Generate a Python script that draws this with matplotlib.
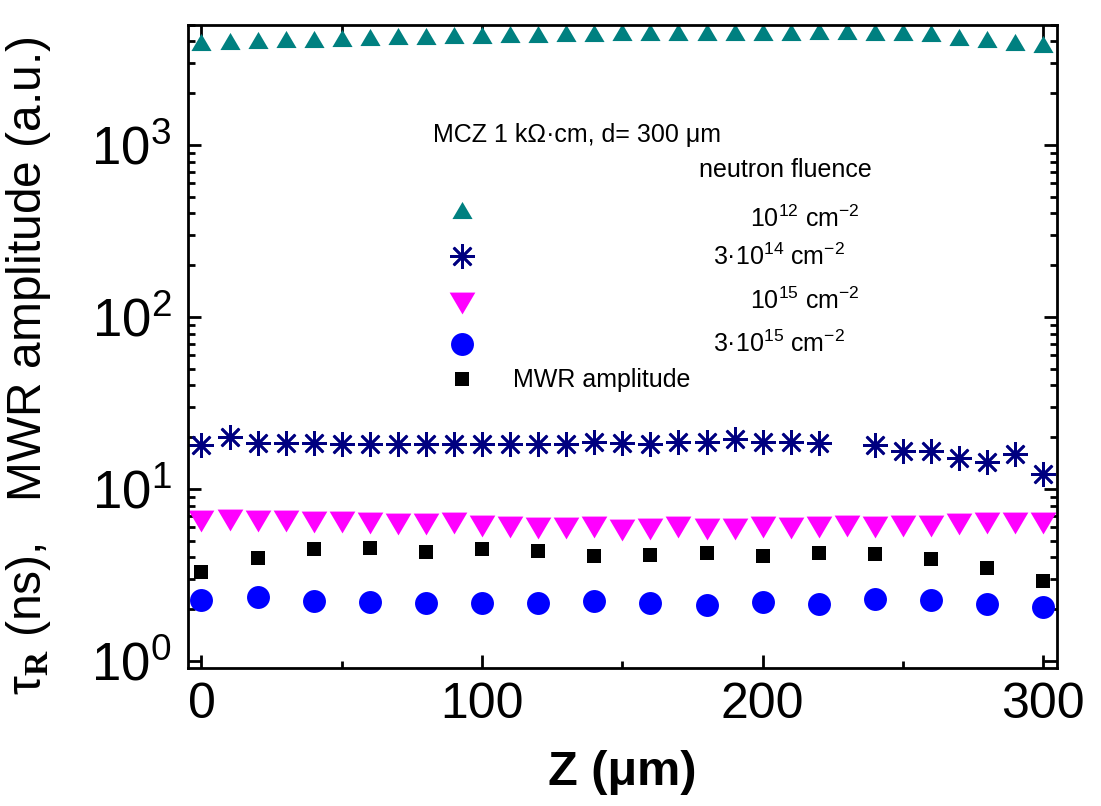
import matplotlib
matplotlib.use('Agg')
import matplotlib.pyplot as plt
from matplotlib.ticker import MultipleLocator, LogLocator, NullFormatter
import numpy as np

plt.rcParams['font.family'] = ['Liberation Sans', 'DejaVu Sans']
plt.rcParams['mathtext.fontset'] = 'custom'
plt.rcParams['mathtext.rm'] = 'Liberation Sans'
plt.rcParams['mathtext.it'] = 'Liberation Serif:italic'
plt.rcParams['mathtext.bf'] = 'Liberation Serif:bold'
plt.rcParams['mathtext.default'] = 'regular'
plt.rcParams['xtick.direction'] = 'in'
plt.rcParams['ytick.direction'] = 'in'

# data
z_fine = np.arange(0, 301, 10)
z_coarse = np.arange(0, 301, 20)

amp_1e12 = [3990, 4010, 4080, 4120, 4150, 4190, 4250, 4290, 4320, 4360, 4380,
            4420, 4440, 4500, 4500, 4540, 4540, 4540, 4540, 4540, 4540, 4560,
            4600, 4600, 4560, 4520, 4470, 4250, 4150, 3990, 3850]

z_3e14 = [0, 10, 20, 30, 40, 50, 60, 70, 80, 90, 100, 110, 120, 130, 140, 150,
          160, 170, 180, 190, 200, 210, 220, 240, 250, 260, 270, 280, 290, 300]
tau_3e14 = [18.0, 20.0, 18.4, 18.6, 18.4, 18.3, 18.2, 18.2, 18.3, 18.3, 18.3,
            18.3, 18.3, 18.3, 18.7, 18.6, 18.2, 18.8, 18.8, 19.5, 18.8, 18.8,
            18.6, 18.0, 16.7, 16.7, 15.2, 14.3, 16.0, 12.3]

tau_1e15 = [6.49, 6.59, 6.54, 6.54, 6.45, 6.45, 6.37, 6.26, 6.23, 6.32, 6.11,
            6.04, 5.96, 5.93, 5.99, 5.81, 5.88, 5.99, 5.83, 5.88, 5.99, 5.96,
            6.01, 6.12, 6.04, 6.09, 6.09, 6.28, 6.36, 6.36, 6.36]

tau_3e15 = [2.26, 2.35, 2.23, 2.21, 2.18, 2.18, 2.17, 2.24, 2.17, 2.11, 2.19,
            2.14, 2.29, 2.26, 2.14, 2.07]

mwr_amp = [3.28, 3.99, 4.46, 4.52, 4.32, 4.46, 4.36, 4.09, 4.13, 4.23, 4.09,
           4.26, 4.19, 3.92, 3.46, 2.92]

legend_labels = ['10$^{12}$ cm$^{-2}$', '3·10$^{14}$ cm$^{-2}$',
                 '10$^{15}$ cm$^{-2}$', '3·10$^{15}$ cm$^{-2}$',
                 'MWR amplitude']

tri_up = [(-1, -0.85), (1, -0.85), (0, 0.85)]
tri_down = [(-1, 0.85), (1, 0.85), (0, -0.85)]

styles = [
    dict(marker=tri_up, color='#008080', ms=14.5, mew=0),
    dict(marker=(8, 2, 0), color='#000080', ms=18, mew=1.9, mfc='none'),
    dict(marker=tri_down, color='#FF00FF', ms=18.5, mew=0),
    dict(marker='o', color='#0000FF', ms=16.5, mew=0),
    dict(marker='s', color='black', ms=10.5, mew=0),
]

fig = plt.figure(figsize=(11.01, 8.06), dpi=100)
ax = fig.add_axes([188 / 1101, 1 - 668 / 806, (1057 - 188) / 1101, (668 - 24.5) / 806])

series = [(z_fine, amp_1e12), (z_3e14, tau_3e14), (z_fine, tau_1e15),
          (z_coarse, tau_3e15), (z_coarse, mwr_amp)]
for (xs, ys), st in zip(series, styles):
    ax.plot(xs, ys, linestyle='none', **st)

ax.set_yscale('log')
ax.set_xlim(-4.8, 304.9)
ax.set_ylim(0.911, 5020)

ax.xaxis.set_major_locator(MultipleLocator(100))
ax.xaxis.set_minor_locator(MultipleLocator(50))
ax.yaxis.set_major_locator(LogLocator(base=10, numticks=10))
ax.yaxis.set_minor_locator(LogLocator(base=10, subs=np.arange(2, 10), numticks=10))
ax.yaxis.set_minor_formatter(NullFormatter())

for s in ax.spines.values():
    s.set_linewidth(2)
ax.tick_params(which='both', top=True, right=True, width=2)
ax.tick_params(which='major', length=9.5)
ax.tick_params(which='minor', length=5)
ax.tick_params(axis='x', which='major', labelsize=36, pad=10)
ax.tick_params(axis='y', which='major', labelsize=38, pad=12)

ax.set_xlabel('Z (μm)', fontsize=35, fontweight='bold', labelpad=16)
ax.set_ylabel(r'$\tau_{\mathbf{R}}$ (ns),   MWR amplitude (a.u.)', fontsize=34.5)
ax.yaxis.set_label_coords(-0.155, 0.47)

# legend drawn by hand, its layout is not a standard legend
tx = ax.transAxes
ax.text(0.2819, 0.8179, 'MCZ 1 kΩ·cm, d= 300 μm', transform=tx,
        fontsize=18, va='baseline')
ax.text(0.588, 0.7635, 'neutron fluence', transform=tx, fontsize=18, va='baseline')
mark_y = [0.7117, 0.6402, 0.5672, 0.5035, 0.4491]
text_x = [0.6467, 0.6041, 0.6467, 0.6041, 0.374]
text_y = [0.6853, 0.6263, 0.5579, 0.4906, 0.4371]
for st, my, lx, ly, lab in zip(styles, mark_y, text_x, text_y, legend_labels):
    ax.plot([0.3153], [my], transform=tx, linestyle='none', clip_on=False, **st)
    ax.text(lx, ly, lab, transform=tx, fontsize=18, va='baseline')

fig.savefig('out.png', dpi=100)
